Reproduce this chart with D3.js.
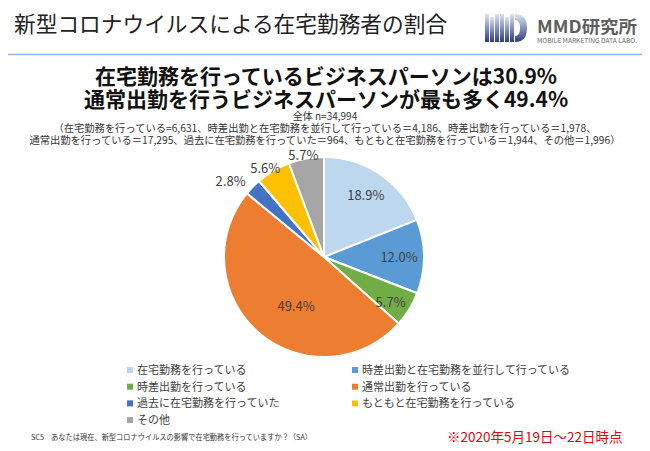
<!DOCTYPE html>
<html><head><meta charset="utf-8">
<script src="https://cdn.jsdelivr.net/npm/d3@7"></script>
<style>
html,body{margin:0;padding:0;background:#fff;}
svg{display:block;}
text{font-family:"Noto Sans CJK JP","Noto Sans",sans-serif;}
</style></head>
<body>
<svg id="chart" width="650" height="451"></svg>
<script>
// ---- data ----
const categories = ["在宅勤務を行っている","時差出勤と在宅勤務を並行して行っている","時差出勤を行っている","通常出勤を行っている","過去に在宅勤務を行っていた","もともと在宅勤務を行っている","その他"];
const counts = [6631, 4186, 1978, 17295, 964, 1944, 1996];
const pctLabels = ["18.9%","12.0%","5.7%","49.4%","2.8%","5.6%","5.7%"];
const colors = ["#bdd7ee","#5b9bd5","#70ad47","#ed7d31","#4472c4","#ffc000","#a5a5a5"];
const pageTitle = "新型コロナウイルスによる在宅勤務者の割合";
const headLines = ["在宅勤務を行っているビジネスパーソンは30.9%","通常出勤を行うビジネスパーソンが最も多く49.4%"];
const totalLine = "全体 n=34,994";
const detailLines = ["（在宅勤務を行っている=6,631、時差出勤と在宅勤務を並行して行っている＝4,186、時差出勤を行っている＝1,978、",
  "通常出勤を行っている＝17,295、過去に在宅勤務を行っていた＝964、もともと在宅勤務を行っている＝1,944、その他＝1,996）"];
const questionText = "SC5　あなたは現在、新型コロナウイルスの影響で在宅勤務を行っていますか？（SA）";
const dateNote = "※2020年5月19日～22日時点";

// ---- layout ----
const svg = d3.select("#chart");
const cx = 324, cy = 257, R = 100;
// label placement: radial factor and angular shift (deg) relative to slice centre
const labelRadial = [0.745, 0.75, 0.806, 0.57, 1.2, 1.064, 1.038];
const labelShift = [0, 0.5, 2.8, -11.2, -5.6, -3, -1.2];

// header
svg.append("text").attr("x", 14).attr("y", 32).attr("font-size", 21.7).attr("font-weight", 400)
  .attr("fill", "#222").text(pageTitle);
svg.append("line").attr("x1", 8).attr("x2", 642).attr("y1", 54.5).attr("y2", 54.5)
  .attr("stroke", "#8eb4e3").attr("stroke-width", 1.5);

// logo
const defs = svg.append("defs");
const lg = defs.append("linearGradient").attr("id", "lg").attr("x1", 0).attr("y1", 0).attr("x2", 0).attr("y2", 1);
lg.append("stop").attr("offset", "0%").attr("stop-color", "#dfe3f1");
lg.append("stop").attr("offset", "45%").attr("stop-color", "#8c98c6");
lg.append("stop").attr("offset", "100%").attr("stop-color", "#2e3c80");
const logo = svg.append("g").attr("fill", "url(#lg)");
const bars = [[485,4,14],[490,4,17],[495,4,14],[500,4,14],[505,4,17],[510,4,14]];
bars.forEach(b => logo.append("rect").attr("x", b[0]).attr("y", b[2]).attr("width", b[1]).attr("height", 42 - b[2]));
logo.append("path").attr("d", "M515,14 L515,42 Q527,42 527,28 Q527,14 515,14 Z M515,20 Q520,20 520,28 Q520,36 515,36 Z")
  .attr("fill-rule", "evenodd");
svg.append("text").attr("x", 537).attr("y", 33).attr("font-size", 17).attr("font-weight", 700)
  .attr("fill", "#5f5f5f").attr("textLength", 100).attr("lengthAdjust", "spacingAndGlyphs").text("MMD研究所");
svg.append("text").attr("x", 537).attr("y", 43).attr("font-size", 5.5).attr("fill", "#666")
  .attr("textLength", 100).attr("lengthAdjust", "spacingAndGlyphs").text("MOBILE MARKETING DATA LABO.");

// headline
headLines.forEach((t, i) => {
  svg.append("text").attr("x", 326).attr("y", 84 + i * 23).attr("text-anchor", "middle")
    .attr("font-size", 21).attr("font-weight", 700).attr("fill", "#111").text(t);
});
svg.append("text").attr("x", 325).attr("y", 120).attr("text-anchor", "middle")
  .attr("font-size", 10).attr("fill", "#333").text(totalLine);
const detailWidths = [543, 591];
detailLines.forEach((t, i) => {
  svg.append("text").attr("x", 325).attr("y", 132 + i * 12).attr("text-anchor", "middle")
    .attr("font-size", 10).attr("fill", "#333")
    .attr("textLength", detailWidths[i]).attr("lengthAdjust", "spacingAndGlyphs").text(t);
});

// pie
const pie = d3.pie().value(d => d).sort(null);
const arcs = pie(counts);
const arc = d3.arc().innerRadius(0).outerRadius(R);
const g = svg.append("g").attr("transform", `translate(${cx},${cy})`);
g.selectAll("path").data(arcs).join("path")
  .attr("d", arc).attr("fill", (d, i) => colors[i])
  .attr("stroke", "#fff").attr("stroke-width", 2).attr("stroke-linejoin", "round");
g.selectAll("text.lbl").data(arcs).join("text").attr("class", "lbl")
  .attr("transform", (d, i) => {
    const a = (d.startAngle + d.endAngle) / 2 + labelShift[i] * Math.PI / 180;
    const r = R * labelRadial[i];
    return `translate(${r * Math.sin(a)},${-r * Math.cos(a)})`;
  })
  .attr("text-anchor", "middle").attr("dy", "0.36em")
  .attr("font-family", "'DejaVu Sans',Verdana,sans-serif").attr("font-size", 13)
  .attr("fill", "#404040").text((d, i) => pctLabels[i]);

// legend
const legendX = [127, 352], legendY0 = 370, legendStep = 16.7;
const leg = svg.append("g");
categories.forEach((c, i) => {
  const col = i % 2, row = Math.floor(i / 2);
  const x = legendX[col], y = legendY0 + row * legendStep;
  leg.append("rect").attr("x", x).attr("y", y - 3).attr("width", 6).attr("height", 6).attr("fill", colors[i]);
  leg.append("text").attr("x", x + 10).attr("y", y).attr("dy", "0.36em")
    .attr("font-size", 11).attr("fill", "#404040").text(c);
});

// footer
svg.append("text").attr("x", 31).attr("y", 440).attr("font-size", 7.5).attr("fill", "#333")
  .attr("textLength", 281).attr("lengthAdjust", "spacingAndGlyphs").text(questionText);
svg.append("text").attr("x", 447).attr("y", 442).attr("font-size", 13.5).attr("fill", "#e60012")
  .text(dateNote);
</script>
</body></html>
